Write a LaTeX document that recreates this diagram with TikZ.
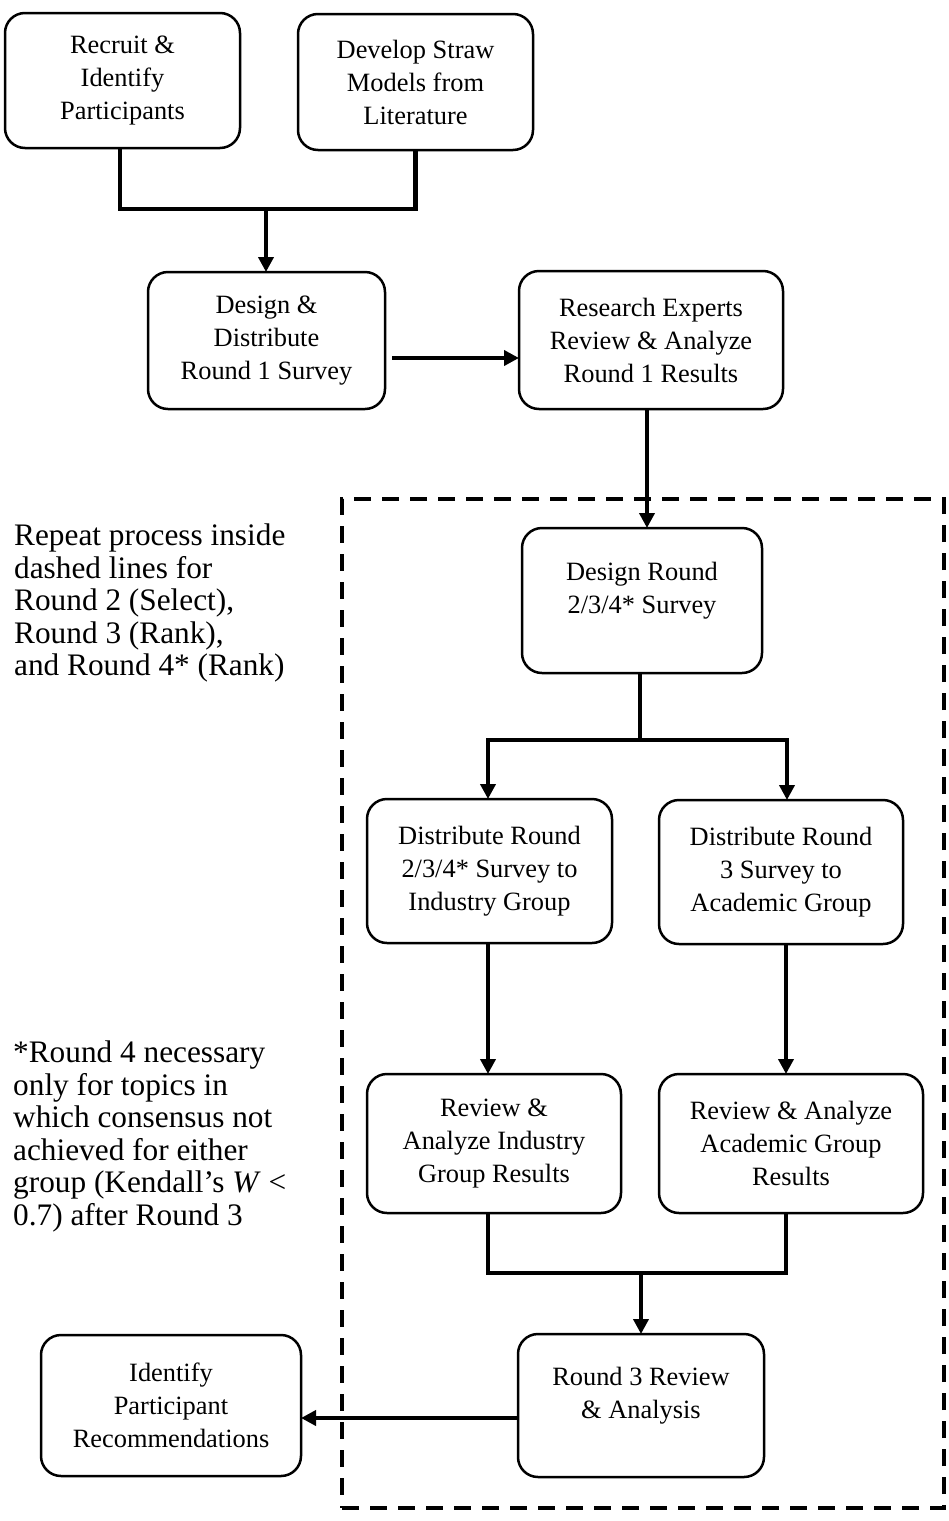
\documentclass[tikz,border=0pt]{standalone}
\usepackage{fontspec}
\setmainfont{Liberation Serif}
\usetikzlibrary{arrows.meta}
\begin{document}
\begin{tikzpicture}[x=1pt,y=-1pt,
  box/.style={draw, rounded corners=20pt, line width=2.5pt, inner sep=0pt, outer sep=0pt, align=center, font=\fontsize{26.4pt}{33pt}\selectfont},
  boxtext/.style={inner sep=0pt, align=center, font=\fontsize{26.4pt}{33pt}\selectfont},
  note/.style={inner sep=0pt, align=left, anchor=north west, font=\fontsize{31.3pt}{32.5pt}\selectfont},
  conn/.style={line width=4.3pt},
  arr/.style={conn, -{Triangle[length=15pt,width=15pt]}},
  frame/.style={draw, line width=4pt, dash pattern=on 17pt off 11pt, inner sep=0pt}]
\useasboundingbox (0,0) rectangle (948,1521);

% dashed frame
\node[frame, minimum width=602pt, minimum height=1009pt] (fr) at (643,1003.5) {};

% boxes
\node[box, minimum width=235pt, minimum height=135pt] (b1) at (122.5,80.5) {Recruit \&\\Identify\\Participants};
\node[box, minimum width=235pt, minimum height=136pt] (b2) at (415.5,82) {Develop Straw\\Models from\\Literature};
\node[box, minimum width=237pt, minimum height=137pt] (b3) at (266.5,340.5) {Design \&\\Distribute\\Round 1 Survey};
\node[box, minimum width=264pt, minimum height=138pt] (b4) at (651,340) {Research Experts\\Review \& Analyze\\Round 1 Results};
\node[box, minimum width=240pt, minimum height=145pt] (b6) at (642,600.5) {};
\node[boxtext] (b6t) at ([yshift=10pt]b6.center) {Design Round\\2/3/4* Survey};
\node[box, minimum width=245pt, minimum height=144pt] (b7) at (489.5,871) {Distribute Round\\2/3/4* Survey to\\Industry Group};
\node[box, minimum width=244pt, minimum height=144pt] (b8) at (781,872) {Distribute Round\\3 Survey to\\Academic Group};
\node[box, minimum width=254pt, minimum height=139pt] (b9) at (494,1143.5) {Review \&\\Analyze Industry\\Group Results};
\node[box, minimum width=264pt, minimum height=139pt] (b10) at (791,1143.5) {Review \& Analyze\\Academic Group\\Results};
\node[box, minimum width=246pt, minimum height=143pt] (b11) at (641,1405.5) {};
\node[boxtext] (b11t) at ([yshift=10pt]b11.center) {Round 3 Review\\\& Analysis};
\node[box, minimum width=260pt, minimum height=141pt] (b12) at (171,1405.5) {Identify\\Participant\\Recommendations};

% notes
\node[note] (n1) at (14,524) {Repeat process inside\\dashed lines for\\Round 2 (Select),\\Round 3 (Rank),\\and Round 4* (Rank)};
\node[note] (n2) at (13,1041) {*Round 4 necessary\\only for topics in\\which consensus not\\achieved for either\\group (Kendall’s \textit{W} <\\0.7) after Round 3};

% connectors
\coordinate (j1) at (266,209);
\draw[conn] (b1.south -| 120,0) |- (j1) -| (b2.south);
\draw[arr] (j1) -- (j1 |- b3.north);
\draw[arr] (b3.east |- 0,358) ++(7,0) -- (b4.west |- 0,358);
\draw[arr] (b4.south -| 647,0) -- (b6.north -| 647,0);

\coordinate (j2) at (640,740);
\draw[conn] (b6.south -| 640,0) -- (j2);
\draw[arr] (j2) -| (b7.north -| 488,0);
\draw[arr] (j2) -| (b8.north -| 787,0);
\draw[arr] (b7.south -| 488,0) -- (b9.north -| 488,0);
\draw[arr] (b8.south -| 786,0) -- (b10.north -| 786,0);

\coordinate (j3) at (641,1273);
\draw[conn] (b9.south -| 488,0) |- (j3) -| (b10.south -| 786,0);
\draw[arr] (j3) -- (b11.north);
\draw[arr] (b11.west |- 0,1418) -- (b12.east |- 0,1418);
\end{tikzpicture}
\end{document}
